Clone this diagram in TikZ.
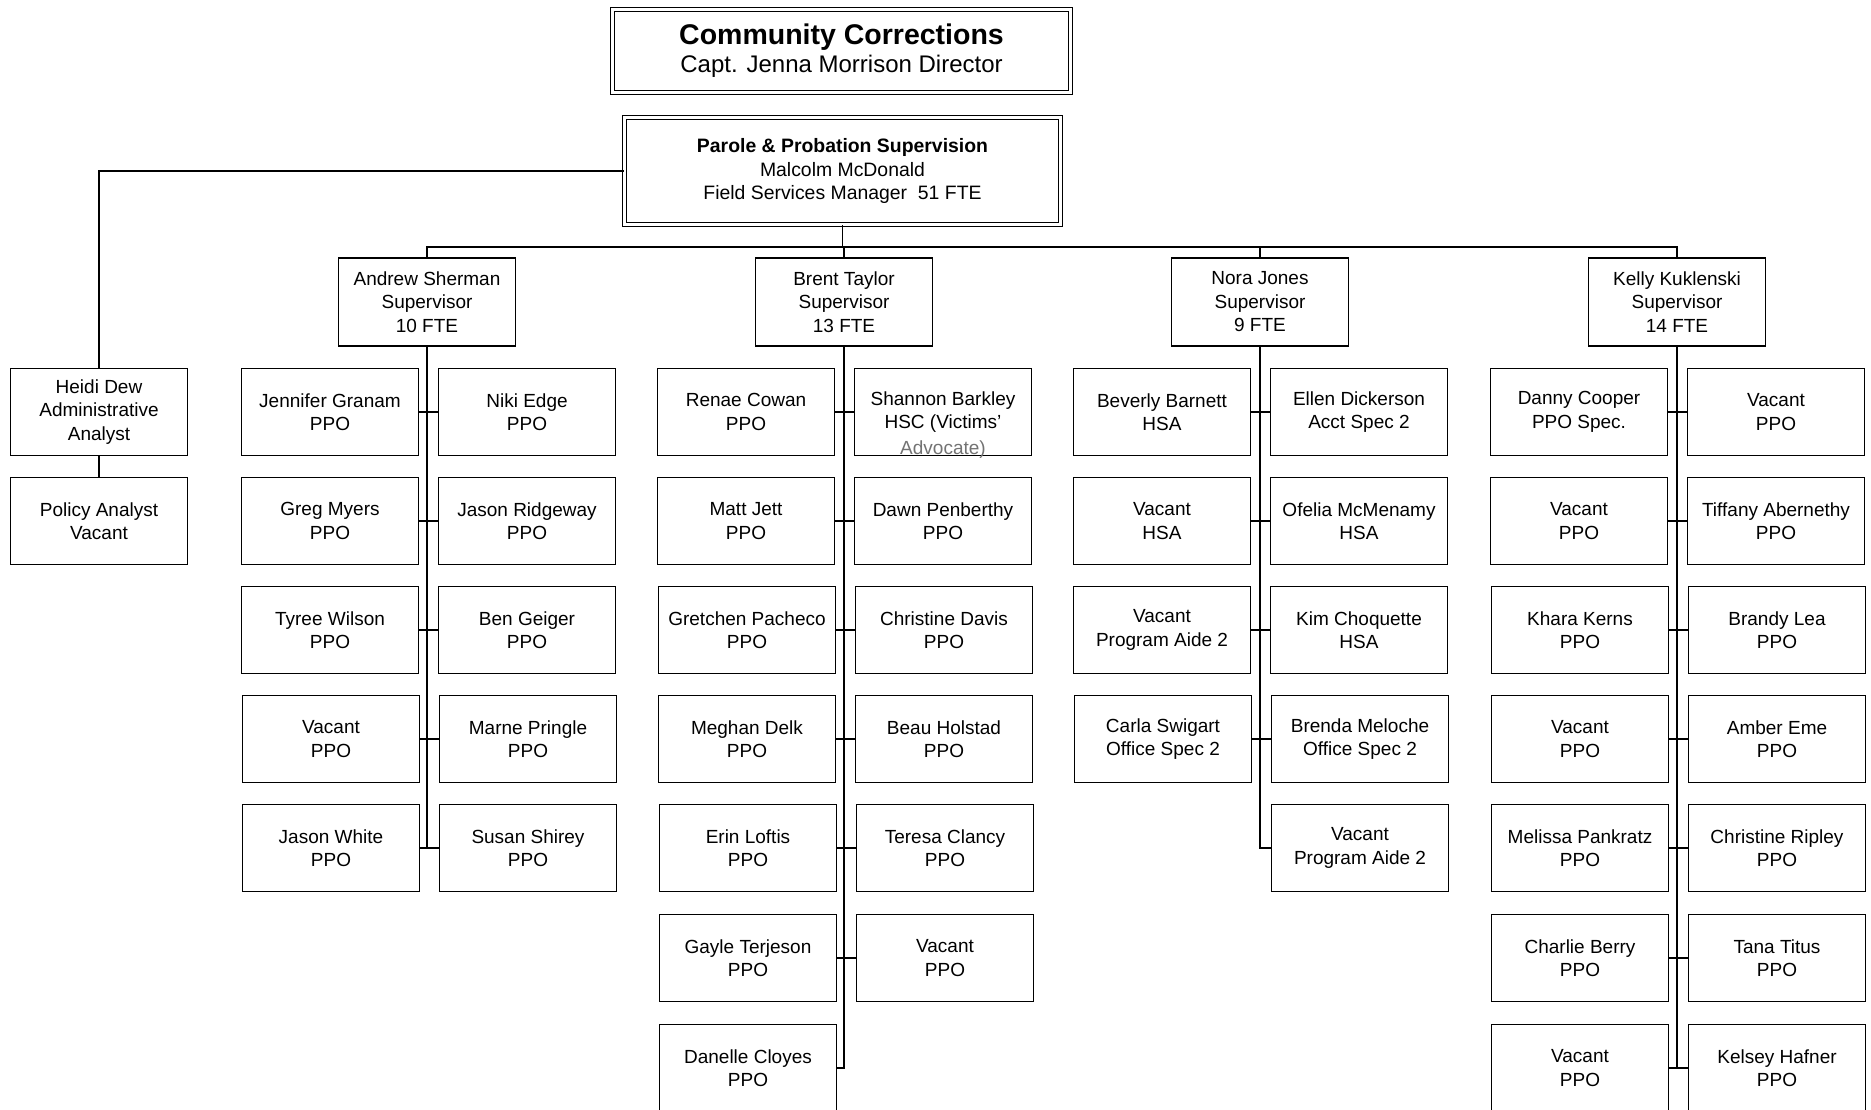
\documentclass[tikz,border=0pt]{standalone}
\usepackage{fontspec}
\setmainfont{Liberation Sans}
\begin{document}
\begin{tikzpicture}[x=1pt,y=-1pt,
  box/.style={draw, line width=1.5pt, minimum width=177pt, minimum height=87pt, inner sep=0pt, align=center, font=\fontsize{19}{23.5}\selectfont},
  supbox/.style={box, minimum height=88pt},
  dbl/.style={draw, double, double distance=3pt, line width=1.1pt, inner sep=0pt, align=center},
  link/.style={line width=1.5pt},
  faint/.style={text=black!55, font=\fontsize{19}{23.5}\selectfont, inner sep=0pt}]
\useasboundingbox (0,0) rectangle (1871,1110);
\fill[white] (0,0) rectangle (1871,1110);

% head boxes
\node[dbl, minimum width=458pt, minimum height=83pt] (cc) at (841.5,51)
  {{\fontsize{28.5}{29}\selectfont\bfseries Community Corrections}\\[4pt]{\fontsize{24}{29}\selectfont Capt. Jenna Morrison Director}};
\node[dbl, minimum width=436pt, minimum height=107pt, font=\fontsize{19.4}{23.5}\selectfont] (pps) at (842.5,171)
  {\textbf{Parole \& Probation Supervision}\\Malcolm McDonald\\Field Services Manager\ \ 51 FTE};

% staff of the manager
\node[box] (hd) at (99,412) {Heidi Dew\\Administrative\\Analyst};
\node[box] (pa) at (99,521) {Policy Analyst\\Vacant};

% supervisors
\node[supbox] (as) at (427,302) {Andrew Sherman\\Supervisor\\10 FTE};
\node[supbox] (bt) at (844,302) {Brent Taylor\\Supervisor\\13 FTE};
\node[supbox] (nj) at (1260,302) {Nora Jones\\Supervisor\\9 FTE};
\node[supbox] (kk) at (1677,302) {Kelly Kuklenski\\Supervisor\\14 FTE};

% Andrew Sherman group
\node[box] (a1l) at (330,412) {Jennifer Granam\\PPO};
\node[box] (a1r) at (527,412) {Niki Edge\\PPO};
\node[box] (a2l) at (330,521) {Greg Myers\\PPO};
\node[box] (a2r) at (527,521) {Jason Ridgeway\\PPO};
\node[box] (a3l) at (330,630) {Tyree Wilson\\PPO};
\node[box] (a3r) at (527,630) {Ben Geiger\\PPO};
\node[box] (a4l) at (331,739) {Vacant\\PPO};
\node[box] (a4r) at (528,739) {Marne Pringle\\PPO};
\node[box] (a5l) at (331,848) {Jason White\\PPO};
\node[box] (a5r) at (528,848) {Susan Shirey\\PPO};

% Brent Taylor group
\node[box] (b1l) at (746,412) {Renae Cowan\\PPO};
\node[box] (b1r) at (943,412) {Shannon Barkley\\HSC (Victims’};
\node[faint, anchor=base] (b1rx) at ([yshift=2pt]b1r.south) {Advocate)};
\node[box] (b2l) at (746,521) {Matt Jett\\PPO};
\node[box] (b2r) at (943,521) {Dawn Penberthy\\PPO};
\node[box] (b3l) at (747,630) {Gretchen Pacheco\\PPO};
\node[box] (b3r) at (944,630) {Christine Davis\\PPO};
\node[box] (b4l) at (747,739) {Meghan Delk\\PPO};
\node[box] (b4r) at (944,739) {Beau Holstad\\PPO};
\node[box] (b5l) at (748,848) {Erin Loftis\\PPO};
\node[box] (b5r) at (945,848) {Teresa Clancy\\PPO};
\node[box] (b6l) at (748,958) {Gayle Terjeson\\PPO};
\node[box] (b6r) at (945,958) {Vacant\\PPO};
\node[box] (b7l) at (748,1068) {Danelle Cloyes\\PPO};

% Nora Jones group
\node[box] (n1l) at (1162,412) {Beverly Barnett\\HSA};
\node[box] (n1r) at (1359,412) {Ellen Dickerson\\Acct Spec 2};
\node[box] (n2l) at (1162,521) {Vacant\\HSA};
\node[box] (n2r) at (1359,521) {Ofelia McMenamy\\HSA};
\node[box] (n3l) at (1162,630) {Vacant\\Program Aide 2};
\node[box] (n3r) at (1359,630) {Kim Choquette\\HSA};
\node[box] (n4l) at (1163,739) {Carla Swigart\\Office Spec 2};
\node[box] (n4r) at (1360,739) {Brenda Meloche\\Office Spec 2};
\node[box] (n5r) at (1360,848) {Vacant\\Program Aide 2};

% Kelly Kuklenski group
\node[box] (k1l) at (1579,412) {Danny Cooper\\PPO Spec.};
\node[box] (k1r) at (1776,412) {Vacant\\PPO};
\node[box] (k2l) at (1579,521) {Vacant\\PPO};
\node[box] (k2r) at (1776,521) {Tiffany Abernethy\\PPO};
\node[box] (k3l) at (1580,630) {Khara Kerns\\PPO};
\node[box] (k3r) at (1777,630) {Brandy Lea\\PPO};
\node[box] (k4l) at (1580,739) {Vacant\\PPO};
\node[box] (k4r) at (1777,739) {Amber Eme\\PPO};
\node[box] (k5l) at (1580,848) {Melissa Pankratz\\PPO};
\node[box] (k5r) at (1777,848) {Christine Ripley\\PPO};
\node[box] (k6l) at (1580,958) {Charlie Berry\\PPO};
\node[box] (k6r) at (1777,958) {Tana Titus\\PPO};
\node[box] (k7l) at (1580,1068) {Vacant\\PPO};
\node[box] (k7r) at (1777,1068) {Kelsey Hafner\\PPO};

% connectors
\coordinate (busy) at (0,247);
\draw[link] (pps.west) -| (hd.north);
\draw[link] (hd) -- (pa);
\draw[link] (pps.south) -- (pps.south |- busy);
\draw[link] (as.north) |- (kk.north |- busy) -- (kk.north);
\draw[link] (bt.north) -- (bt.north |- busy);
\draw[link] (nj.north) -- (nj.north |- busy);

\draw[link] (as.south) -- (as.south |- a5l.east);
\foreach \r in {1,...,5} \draw[link] (a\r l) -- (a\r r);

\draw[link] (bt.south) |- (b7l.east);
\foreach \r in {1,...,6} \draw[link] (b\r l) -- (b\r r);

\draw[link] (nj.south) |- (n5r.west);
\foreach \r in {1,...,4} \draw[link] (n\r l) -- (n\r r);

\draw[link] (kk.south) -- (kk.south |- k7l.east);
\foreach \r in {1,...,7} \draw[link] (k\r l) -- (k\r r);
\end{tikzpicture}
\end{document}
